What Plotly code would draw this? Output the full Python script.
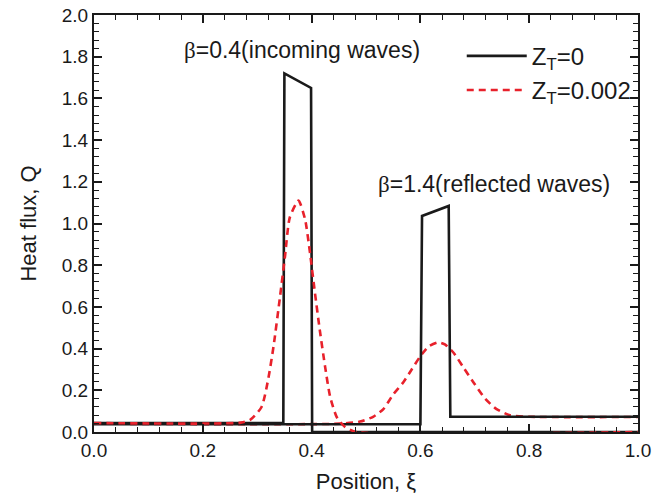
import plotly.graph_objects as go

# Black, Z_T=0, snapshot beta=0.4 (incoming)
blk1_x = [0.0, 0.348, 0.350, 0.399, 0.401, 1.0]
blk1_q = [0.043, 0.043, 1.72, 1.65, 0.0, 0.0]
# Black, Z_T=0, snapshot beta=1.4 (reflected)
blk2_x = [0.0, 0.600, 0.603, 0.652, 0.655, 1.0]
blk2_q = [0.037, 0.037, 1.036, 1.084, 0.073, 0.073]

# Red dashed, Z_T=0.002, snapshot beta=0.4
red1_x = [0.0, 0.27, 0.287, 0.308, 0.320, 0.330, 0.342, 0.351, 0.360, 0.376, 0.388,
          0.397, 0.406, 0.415, 0.425, 0.434, 0.446, 0.461, 0.483, 1.0]
red1_q = [0.043, 0.045, 0.058, 0.12, 0.25, 0.41, 0.65, 0.84, 1.03, 1.11, 1.02,
          0.86, 0.67, 0.49, 0.31, 0.17, 0.073, 0.025, 0.0, 0.0]
# Red dashed, Z_T=0.002, snapshot beta=1.4
red2_x = [0.0, 0.452, 0.489, 0.513, 0.532, 0.550, 0.569, 0.584, 0.599, 0.615, 0.633,
          0.645, 0.661, 0.679, 0.697, 0.719, 0.740, 0.765, 0.801, 1.0]
red2_q = [0.040, 0.040, 0.05, 0.073, 0.11, 0.18, 0.24, 0.30, 0.36, 0.41, 0.43,
          0.42, 0.38, 0.31, 0.24, 0.16, 0.11, 0.08, 0.073, 0.072]

RED = "#e8212b"
INK = "#1a1a1a"
SANS = "Liberation Sans, Arial"
SERIF = "Liberation Serif, Times New Roman"

fig = go.Figure()
fig.add_trace(go.Scatter(x=red2_x, y=red2_q, mode="lines",
                         line=dict(color=RED, width=2.6, dash="7px,5px", shape="spline", smoothing=0.6),
                         legendgroup="r", showlegend=False, name="Z<sub>T</sub>=0.002"))
fig.add_trace(go.Scatter(x=blk1_x, y=blk1_q, mode="lines", line=dict(color=INK, width=2.6),
                         legendgroup="b", name="Z<sub>T</sub>=0"))
fig.add_trace(go.Scatter(x=blk2_x, y=blk2_q, mode="lines", line=dict(color=INK, width=2.6),
                         legendgroup="b", showlegend=False, name="Z<sub>T</sub>=0"))
fig.add_trace(go.Scatter(x=red1_x, y=red1_q, mode="lines",
                         line=dict(color=RED, width=2.6, dash="7px,5px", shape="spline", smoothing=0.6),
                         legendgroup="r", name="Z<sub>T</sub>=0.002"))

axis_common = dict(showline=True, linecolor=INK, linewidth=2, mirror="ticks",
                   ticks="inside", ticklen=8, tickwidth=1.5, tickcolor=INK,
                   showgrid=False, zeroline=False, automargin=False, ticklabeloverflow="allow",
                   tickfont=dict(family=SANS, size=19, color=INK),
                   minor=dict(ticks="inside", ticklen=5, tickwidth=1.2, tickcolor=INK, dtick=0.04, showgrid=False))
fig.update_xaxes(range=[0, 1.0], dtick=0.2, tickformat=".1f",
                 title=dict(text="Position, ξ", font=dict(family=SANS, size=22, color=INK), standoff=14),
                 **axis_common)
fig.update_yaxes(range=[0, 2.0], dtick=0.2, tickformat=".1f",
                 title=dict(text="Heat flux, Q", font=dict(family=SANS, size=22, color=INK), standoff=19),
                 **axis_common)

fig.add_annotation(x=0.383, y=1.83, xref="x", yref="y", showarrow=False,
                   text=f"<span style='font-family:{SERIF}'>β</span>=0.4(incoming waves)",
                   font=dict(family=SANS, size=23, color=INK))
fig.add_annotation(x=0.735, y=1.19, xref="x", yref="y", showarrow=False,
                   text=f"<span style='font-family:{SERIF}'>β</span>=1.4(reflected waves)",
                   font=dict(family=SANS, size=23, color=INK))

fig.update_layout(width=672, height=500, margin=dict(l=94, r=34, t=15, b=68),
                  plot_bgcolor="white", paper_bgcolor="white",
                  legend=dict(x=0.676, y=0.955, xanchor="left", yanchor="top", bgcolor="rgba(0,0,0,0)",
                              font=dict(family=SANS, size=24, color=INK),
                              traceorder="normal", itemwidth=60, tracegroupgap=0))
fig.write_html("out.html", config={"displayModeBar": False},
               post_script="document.body.style.margin='0';")
